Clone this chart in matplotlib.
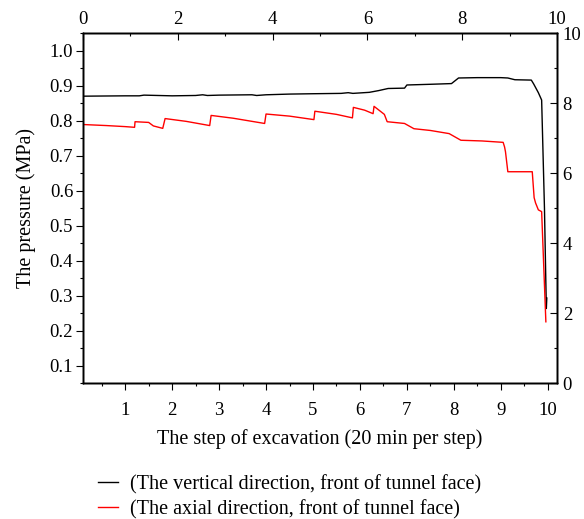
import matplotlib
matplotlib.use("Agg")
import matplotlib.pyplot as plt
from matplotlib.ticker import MultipleLocator

plt.rcParams["font.family"] = ["Liberation Serif", "DejaVu Serif"]
plt.rcParams["font.size"] = 13.5

# Вертикальное направление (чёрная линия)
vert_x = [0.1, 1.0, 1.3, 1.4, 2.0, 2.5, 2.65, 2.75, 3.0, 3.7, 3.8, 4.0, 4.5, 5.0,
          5.6, 5.75, 5.85, 6.2, 6.4, 6.6, 6.95, 7.0, 7.5, 7.95, 8.1, 8.5, 9.0,
          9.15, 9.3, 9.65, 9.7, 9.8, 9.87, 9.93, 9.97, 9.98]
vert_y = [0.870, 0.871, 0.871, 0.873, 0.871, 0.872, 0.874, 0.872, 0.873, 0.874,
          0.872, 0.874, 0.876, 0.877, 0.878, 0.880, 0.878, 0.881, 0.886, 0.892,
          0.893, 0.902, 0.904, 0.906, 0.922, 0.923, 0.923, 0.922, 0.917, 0.916,
          0.905, 0.880, 0.859, 0.55, 0.263, 0.293]

# Осевое направление (красная линия)
axial_x = [0.1, 0.6, 1.0, 1.2, 1.21, 1.5, 1.6, 1.8, 1.85, 2.3, 2.8, 2.83, 3.3,
           3.97, 4.0, 4.5, 5.02, 5.04, 5.5, 5.84, 5.86, 6.1, 6.28, 6.3, 6.52,
           6.58, 6.95, 7.15, 7.5, 7.9, 8.15, 8.6, 9.05, 9.08, 9.1, 9.15, 9.67,
           9.71, 9.74, 9.8, 9.87, 9.96]
axial_y = [0.789, 0.786, 0.783, 0.781, 0.797, 0.795, 0.785, 0.778, 0.806, 0.798,
           0.786, 0.815, 0.807, 0.792, 0.819, 0.813, 0.803, 0.827, 0.818, 0.808,
           0.838, 0.830, 0.820, 0.841, 0.818, 0.797, 0.792, 0.777, 0.772, 0.763,
           0.744, 0.742, 0.738, 0.725, 0.711, 0.654, 0.654, 0.580, 0.565, 0.545,
           0.540, 0.225]

labels = ["(The vertical direction, front of tunnel face)",
          "(The axial direction, front of tunnel face)"]

fig = plt.figure(figsize=(5.84, 5.19), dpi=100)
ax = fig.add_axes([0.142, 0.262, 0.812, 0.674])

l1, = ax.plot(vert_x, vert_y, color="black", lw=1.0)
l2, = ax.plot(axial_x, axial_y, color="red", lw=1.0)

ax.set_xlim(0.1, 10.2)
ax.set_ylim(0.05, 1.05)
ax.xaxis.set_major_locator(MultipleLocator(1))
ax.xaxis.set_minor_locator(MultipleLocator(0.5))
ax.yaxis.set_major_locator(MultipleLocator(0.1))
ax.yaxis.set_minor_locator(MultipleLocator(0.05))
ax.set_xticks(range(1, 11))
ax.set_yticks([0.1 * i for i in range(1, 11)])
ax.set_yticklabels([f"{0.1 * i:.1f}" for i in range(1, 11)])
ax.tick_params(which="major", direction="out", length=5, width=0.8)
ax.tick_params(which="minor", direction="out", length=2.5, width=0.8)
ax.tick_params(axis="x", which="major", pad=9)
ax.tick_params(axis="y", which="major", pad=2)
ax.set_xlabel("The step of excavation (20 min per step)", fontsize=14.5, labelpad=7)
ax.set_ylabel("The pressure (MPa)", fontsize=14.5, labelpad=10)

# Верхняя ось
top = ax.twiny()
top.set_xlim(0, 10)
top.xaxis.set_major_locator(MultipleLocator(2))
top.xaxis.set_minor_locator(MultipleLocator(1))
top.tick_params(which="major", direction="in", length=5, width=0.8, pad=4)
top.tick_params(which="minor", direction="in", length=2.5, width=0.8)

# Правая ось
right = ax.twinx()
right.set_ylim(0, 10)
right.yaxis.set_major_locator(MultipleLocator(2))
right.yaxis.set_minor_locator(MultipleLocator(1))
right.tick_params(which="major", direction="in", length=5, width=0.8, pad=4)
right.tick_params(which="minor", direction="in", length=2.5, width=0.8)

for a in (ax, top, right):
    for s in a.spines.values():
        s.set_linewidth(1.0)

fig.legend([l1, l2], labels, loc="upper left", bbox_to_anchor=(0.15, 0.105),
           frameon=False, handlelength=1.0, handletextpad=0.6, borderpad=0,
           labelspacing=0.3, fontsize=14.5)

plt.savefig("out.png", dpi=100)
